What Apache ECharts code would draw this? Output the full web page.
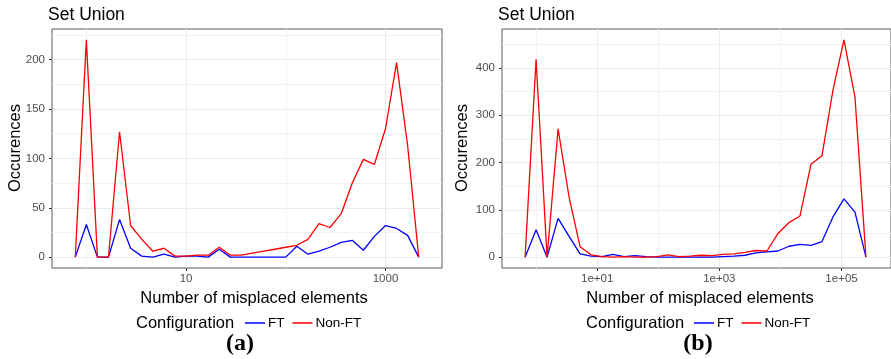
<!DOCTYPE html>
<html>
<head>
<meta charset="utf-8">
<script src="https://cdn.jsdelivr.net/npm/echarts@6/dist/echarts.min.js"></script>
<style>
  html, body { margin: 0; padding: 0; background: #fff; }
  #chart { width: 891px; height: 359px; }
</style>
</head>
<body>
<div id="chart"></div>
<script>
// Panel (a): histogram bin centres, as log10 of the number of misplaced elements
const binLog10A = [-0.111, 0.000, 0.111, 0.222, 0.333, 0.444, 0.556, 0.667, 0.778, 0.889,
                   1.000, 1.111, 1.222, 1.333, 1.444, 1.556, 1.667, 1.778, 1.889, 2.000,
                   2.111, 2.222, 2.333, 2.444, 2.556, 2.667, 2.778, 2.889, 3.000, 3.111,
                   3.222, 3.333];
const ftA    = [0, 33, 0, 0, 38, 9, 1, 0, 3, 0, 1, 1, 0, 8, 0, 0,
                0, 0, 0, 0, 11, 3, 6, 10, 15, 17, 7, 21, 32, 29, 22, 0];
const nonFtA = [0, 220, 0, 0, 127, 32, 18, 6, 9, 1, 1, 2, 2, 10, 2, 2,
                4, 6, 8, 10, 12, 18, 34, 30, 44, 75, 99, 94, 130, 197, 113, 0];

// Panel (b)
const binLog10B = [-0.18, 0.00, 0.18, 0.36, 0.54, 0.72, 0.90, 1.08, 1.26, 1.44,
                   1.62, 1.80, 1.98, 2.16, 2.34, 2.52, 2.70, 2.88, 3.06, 3.24,
                   3.42, 3.60, 3.78, 3.96, 4.14, 4.32, 4.50, 4.68, 4.86, 5.04,
                   5.22, 5.40];
const ftB    = [0, 58, 0, 82, 44, 7, 2, 1, 6, 1, 3, 1, 0, 0, 0, 0,
                0, 0, 1, 2, 4, 9, 11, 13, 23, 27, 25, 33, 85, 123, 95, 0];
const nonFtB = [0, 418, 0, 271, 127, 22, 5, 1, 0, 1, 0, 0, 1, 5, 1, 2,
                4, 3, 6, 7, 10, 14, 13, 50, 73, 87, 196, 214, 353, 459, 338, 0];

// Axis breaks
const xMajorA = [1, 3], xMinorA = [0, 2];
const xMajorB = [1, 3, 5], xMinorB = [0, 2, 4];
const yMajorA = [0, 50, 100, 150, 200], yMinorA = [25, 75, 125, 175, 225];
const yMajorB = [0, 100, 200, 300, 400], yMinorB = [50, 150, 250, 350, 450];

const seriesNames = ['FT', 'Non-FT'];
const FONT = '"Liberation Sans", Arial, Helvetica, sans-serif';

const labelA = v => String(Math.round(Math.pow(10, v)));
const labelB = v => '1e+' + String(Math.round(v)).padStart(2, '0');

function pairs(xs, ys) { return xs.map((x, i) => [x, ys[i]]); }

function xAxes(gridIndex, min, max, major, minor, fmt) {
  return [
    { type: 'value', gridIndex, min, max, position: 'bottom',
      axisLine: { show: false, onZero: false },
      axisTick: { show: true, customValues: major, length: 3, lineStyle: { color: '#333', width: 1 } },
      axisLabel: { customValues: major, formatter: fmt, margin: 5, color: '#4d4d4d', fontSize: 11.5, fontFamily: FONT },
      splitLine: { show: true, lineStyle: { color: '#ebebeb', width: 1 } } },
    { type: 'value', gridIndex, min, max, position: 'bottom',
      axisLine: { show: false, onZero: false },
      axisTick: { show: false, customValues: minor },
      axisLabel: { show: false },
      splitLine: { show: true, lineStyle: { color: '#f2f2f2', width: 1 } } }
  ];
}
function yAxes(gridIndex, min, max, major, minor) {
  return [
    { type: 'value', gridIndex, min, max, position: 'left',
      axisLine: { show: false, onZero: false },
      axisTick: { show: true, customValues: major, length: 3, lineStyle: { color: '#333', width: 1 } },
      axisLabel: { customValues: major, margin: 7, color: '#4d4d4d', fontSize: 11.5, fontFamily: FONT },
      splitLine: { show: true, lineStyle: { color: '#ebebeb', width: 1 } } },
    { type: 'value', gridIndex, min, max, position: 'left',
      axisLine: { show: false, onZero: false },
      axisTick: { show: false, customValues: minor },
      axisLabel: { show: false },
      splitLine: { show: true, lineStyle: { color: '#f2f2f2', width: 1 } } }
  ];
}

function lineSeries(name, color, xAxisIndex, yAxisIndex, data) {
  return { type: 'line', name, xAxisIndex, yAxisIndex, data,
           symbol: 'none', showSymbol: false, silent: true,
           lineStyle: { color, width: 1.3 }, itemStyle: { color } };
}

function text(x, y, str, size, extra) {
  return { type: 'text', x, y, silent: true,
    style: Object.assign({ text: str, fill: '#000', fontSize: size, fontFamily: FONT,
                           align: 'center', verticalAlign: 'middle' }, extra || {}) };
}

function legend(left) {
  return { data: seriesNames, left, top: 316, orient: 'horizontal', padding: 0,
           icon: 'rect', itemWidth: 20, itemHeight: 1.5, itemGap: 8, selectedMode: false,
           textStyle: { fontSize: 13.5, color: '#000', fontFamily: FONT, padding: [0, 0, 0, -2] } };
}

const gridBase = { top: 29, height: 239, show: true,
                   borderColor: '#5a5a5a', borderWidth: 1, backgroundColor: '#fff' };

const option = {
  animation: false,
  backgroundColor: '#fff',
  grid: [Object.assign({ left: 52, width: 390 }, gridBase), Object.assign({ left: 502, width: 392 }, gridBase)],
  xAxis: [].concat(
    xAxes(0, -0.3444, 3.5667, xMajorA, xMinorA, labelA),
    xAxes(1, -0.558, 5.810, xMajorB, xMinorB, labelB)),
  yAxis: [].concat(
    yAxes(0, -11, 231, yMajorA, yMinorA),
    yAxes(1, -22.95, 481.95, yMajorB, yMinorB)),
  legend: [legend(245), legend(694)],
  series: [
    lineSeries('FT', '#0000ff', 0, 0, pairs(binLog10A, ftA)),
    lineSeries('Non-FT', '#ff0000', 0, 0, pairs(binLog10A, nonFtA)),
    lineSeries('FT', '#0000ff', 2, 2, pairs(binLog10B, ftB)),
    lineSeries('Non-FT', '#ff0000', 2, 2, pairs(binLog10B, nonFtB))
  ],
  graphic: [
    text(48, 15, 'Set Union', 17.5, { align: 'left' }),
    text(498, 15, 'Set Union', 17.5, { align: 'left' }),
    Object.assign(text(15, 148, 'Occurences', 16.5), { rotation: Math.PI / 2 }),
    Object.assign(text(462, 148, 'Occurences', 16.5), { rotation: Math.PI / 2 }),
    text(254, 298, 'Number of misplaced elements', 16.5),
    text(700, 298, 'Number of misplaced elements', 16.5),
    text(136, 323, 'Configuration', 16.5, { align: 'left' }),
    text(586, 323, 'Configuration', 16.5, { align: 'left' }),
    text(240, 344, '(a)', 24, { fontFamily: '"Liberation Serif", "Times New Roman", serif', fontWeight: 'bold' }),
    text(698, 344, '(b)', 24, { fontFamily: '"Liberation Serif", "Times New Roman", serif', fontWeight: 'bold' })
  ]
};

const chart = echarts.init(document.getElementById('chart'), null, { renderer: 'canvas' });
chart.setOption(option);
</script>
</body>
</html>
